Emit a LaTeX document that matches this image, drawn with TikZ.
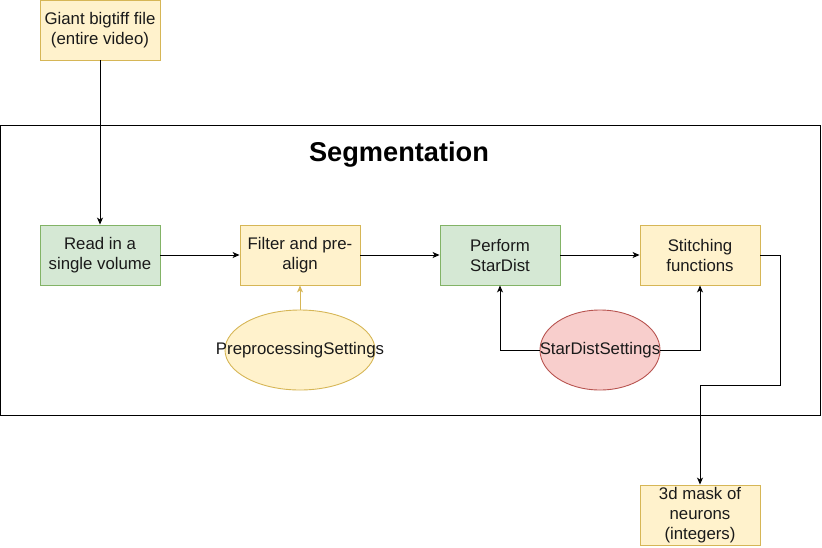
\documentclass[tikz,border=0pt]{standalone}
\usepackage{fontspec}
\setmainfont{Liberation Sans}
\usetikzlibrary{arrows.meta,shapes.geometric}
\definecolor{gfill}{HTML}{D5E8D4}
\definecolor{gdraw}{HTML}{82B366}
\definecolor{yfill}{HTML}{FFF2CC}
\definecolor{ydraw}{HTML}{D6B656}
\definecolor{rfill}{HTML}{F8CECC}
\definecolor{rdraw}{HTML}{B85450}
\definecolor{txt}{HTML}{1A1A1A}
\begin{document}
\begin{tikzpicture}[x=1pt,y=-1pt,
  box/.style={rectangle,minimum width=120pt,minimum height=60pt,inner sep=1pt,align=center,font=\fontsize{16.8}{20}\selectfont,text=txt,line width=0.9pt},
  gbox/.style={box,fill=gfill,draw=gdraw},
  ybox/.style={box,fill=yfill,draw=ydraw},
  ell/.style={ellipse,minimum height=80pt,inner sep=0pt,line width=0.9pt},
  elltext/.style={font=\fontsize{16.8}{20}\selectfont,text=txt,inner sep=0pt},
  conn/.style={-{Stealth[length=7pt,width=6pt,inset=2pt]},line width=0.9pt}]
\useasboundingbox (0,0) rectangle (822,547);
\node[draw,line width=0.9pt,minimum width=820pt,minimum height=290pt,inner sep=0pt] (seg) at (410.5,270) {};
\node[font=\fontsize{27.2}{30}\selectfont\bfseries] (title) at (399,155) {Segmentation};
\node[ybox] (giant) at (100,30) {Giant bigtiff file\\(entire video)};
\node[gbox] (read) at (100,255) {Read in a\\single volume};
\node[ybox] (filter) at (300,255) {Filter and pre-\\align};
\node[gbox] (perform) at (500,255) {Perform\\StarDist};
\node[ybox] (stitch) at (700,255) {Stitching\\functions};
\node[ybox] (mask) at (700,515) {3d mask of\\neurons\\(integers)};
\node[ell,minimum width=150pt,fill=yfill,draw=ydraw,label={[elltext]center:PreprocessingSettings}] (pre) at (300,350) {};
\node[ell,minimum width=120pt,fill=rfill,draw=rdraw] (sds) at (600,350) {};
\draw[conn] (giant) -- (read);
\draw[conn] (read) -- (filter);
\draw[conn] (filter) -- (perform);
\draw[conn] (perform) -- (stitch);
\draw[conn,draw=ydraw,-{Stealth[length=7pt,width=6pt,inset=2pt,fill=ydraw]}] (pre) -- (filter);
\draw[conn] (sds.west) -| (perform.south);
\draw[conn] (sds.east) -| (stitch.south);
\node[elltext] (sdstext) at (sds.center) {StarDistSettings};
\coordinate (c1) at (780,255);
\coordinate (c2) at (780,385);
\coordinate (c3) at (700,385);
\draw[conn] (stitch.east) -- (c1) -- (c2) -- (c3) -- (mask.north);
\end{tikzpicture}
\end{document}
